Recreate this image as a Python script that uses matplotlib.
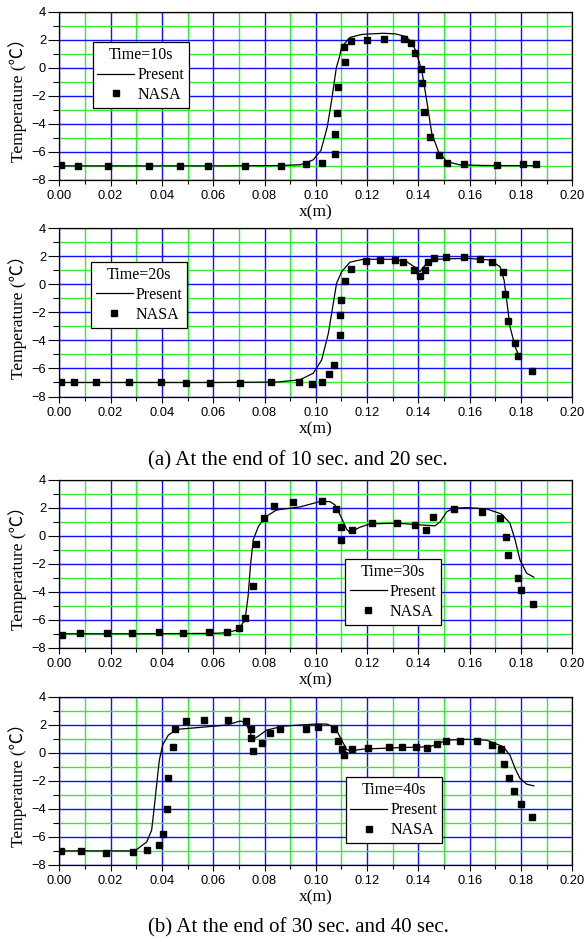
import matplotlib
matplotlib.use("Agg")
import matplotlib.pyplot as plt
from matplotlib.ticker import MultipleLocator, FormatStrFormatter
from matplotlib.lines import Line2D

# ---------------- data ----------------
times = ["Time=10s", "Time=20s", "Time=30s", "Time=40s"]

# Panel 1 (10 s)
nasa10_x = [0.0007, 0.0072, 0.0191, 0.0351, 0.0472, 0.0579, 0.0725, 0.0864, 0.0961,
            0.1025, 0.1075, 0.1076, 0.1083, 0.1088, 0.1114, 0.1110, 0.1137, 0.1198,
            0.1267, 0.1344, 0.1370, 0.1387, 0.1409, 0.1414, 0.1422, 0.1446, 0.1481,
            0.1513, 0.1578, 0.1708, 0.1809, 0.1858]
nasa10_y = [-6.95, -7.0, -7.0, -7.0, -7.0, -7.0, -7.0, -7.0, -6.9,
            -6.81, -6.17, -4.74, -3.24, -1.34, 0.44, 1.46, 1.93, 1.98,
            2.08, 2.08, 1.79, 1.03, -0.11, -1.11, -3.17, -4.91, -6.21,
            -6.81, -6.88, -6.92, -6.88, -6.88]
pres10_x = [0.0, 0.03, 0.06, 0.085, 0.094, 0.099, 0.102, 0.1045, 0.1062, 0.108, 0.1094,
            0.1101, 0.1134, 0.118, 0.1263, 0.1310, 0.1352, 0.1375, 0.1391, 0.1414,
            0.1432, 0.1452, 0.1478, 0.151, 0.156, 0.165, 0.175, 0.185]
pres10_y = [-7.0, -7.0, -7.0, -6.98, -6.92, -6.57, -5.9, -4.2, -2.29, 0.0, 0.9,
            1.5, 2.17, 2.38, 2.46, 2.42, 2.22, 1.8, 1.15, -0.28,
            -2.29, -4.67, -5.98, -6.69, -6.92, -6.97, -6.98, -6.98]

# Panel 2 (20 s)
nasa20_x = [0.0005, 0.0057, 0.0142, 0.0270, 0.0398, 0.0493, 0.0589, 0.0703, 0.0824,
            0.0936, 0.0986, 0.1025, 0.1051, 0.1072, 0.1094, 0.1094, 0.1098, 0.1115,
            0.1136, 0.1196, 0.1251, 0.1310, 0.1339, 0.1383, 0.1407, 0.1425, 0.1439,
            0.1460, 0.1509, 0.1577, 0.1642, 0.1688, 0.1731, 0.1739, 0.1750, 0.1777,
            0.1788, 0.1842]
nasa20_y = [-7.0, -7.0, -7.0, -7.0, -7.0, -7.05, -7.05, -7.07, -7.0,
            -7.0, -7.1, -7.0, -6.39, -5.72, -3.63, -2.2, -1.11, 0.24,
            1.1, 1.67, 1.72, 1.74, 1.62, 1.05, 0.62, 1.03, 1.6,
            1.86, 1.93, 1.93, 1.79, 1.58, 0.86, -0.7, -2.61, -4.2,
            -5.12, -6.17]
pres20_x = [0.0, 0.03, 0.06, 0.085, 0.0938, 0.099, 0.1023, 0.1049, 0.1066, 0.1081,
            0.1101, 0.1133, 0.1185, 0.1302, 0.1354, 0.1393, 0.1406, 0.1432, 0.1465,
            0.1589, 0.1679, 0.1718, 0.1734, 0.1744, 0.1757, 0.1777, 0.1790]
pres20_y = [-7.0, -7.0, -7.0, -6.97, -6.81, -6.34, -5.39, -3.49, -1.59, 0.08,
            0.91, 1.58, 1.79, 1.79, 1.62, 1.15, 0.91, 1.5, 1.79,
            1.86, 1.74, 1.26, 0.31, -1.11, -3.01, -4.44, -5.03]

# Panel 3 (30 s)
nasa30_x = [0.0009, 0.0081, 0.0185, 0.0285, 0.0390, 0.0481, 0.0582, 0.0654, 0.0702,
            0.0725, 0.0756, 0.0765, 0.0799, 0.0837, 0.0913, 0.1023, 0.1079, 0.1097,
            0.1097, 0.1141, 0.1218, 0.1318, 0.1387, 0.1429, 0.1458, 0.1537, 0.1649,
            0.1717, 0.1740, 0.1750, 0.1788, 0.1799, 0.1848]
nasa30_y = [-7.07, -6.95, -6.95, -6.95, -6.9, -6.95, -6.9, -6.85, -6.59,
            -5.88, -3.58, -0.61, 1.24, 2.14, 2.4, 2.45, 1.91, 0.6,
            -0.3, 0.39, 0.93, 0.88, 0.77, 0.41, 1.31, 1.88, 1.71,
            1.24, -0.07, -1.37, -3.03, -3.89, -4.88]
pres30_x = [0.0, 0.03, 0.06, 0.065, 0.0698, 0.0724, 0.0736, 0.0745, 0.0756, 0.0776,
            0.0802, 0.0846, 0.0938, 0.1016, 0.1055, 0.1075, 0.1101, 0.1120, 0.1133,
            0.1172, 0.1211, 0.1318, 0.1406, 0.1465, 0.1485, 0.1511, 0.1536, 0.1587,
            0.1665, 0.1724, 0.1757, 0.1777, 0.1796, 0.1822, 0.1850]
pres30_y = [-7.0, -7.0, -6.97, -6.93, -6.71, -6.0, -4.34, -2.2, -0.3, 0.65,
            1.31, 1.83, 2.05, 2.43, 2.43, 2.19, 1.24, 0.46, 0.22,
            0.6, 0.84, 0.89, 0.77, 0.7, 1.0, 1.71, 1.95, 2.0,
            1.91, 1.55, 0.89, -0.3, -1.73, -2.68, -2.96]

# Panel 4 (40 s)
nasa40_x = [0.0007, 0.0083, 0.0183, 0.0286, 0.0340, 0.0390, 0.0403, 0.0421, 0.0425,
            0.0443, 0.0451, 0.0493, 0.0565, 0.0657, 0.0727, 0.0746, 0.0746, 0.0756,
            0.0790, 0.0820, 0.0860, 0.0961, 0.1010, 0.1071, 0.1088, 0.1103, 0.1110,
            0.1140, 0.1205, 0.1285, 0.1337, 0.1390, 0.1435, 0.1474, 0.1506, 0.1561,
            0.1628, 0.1688, 0.1722, 0.1734, 0.1752, 0.1771, 0.1800, 0.1842]
nasa40_y = [-7.02, -7.02, -7.14, -7.07, -6.93, -6.6, -5.76, -4.04, -1.81,
            0.43, 1.71, 2.24, 2.34, 2.34, 2.24, 1.71, 1.05, 0.14,
            0.71, 1.43, 1.67, 1.67, 1.81, 1.69, 0.86, 0.26, -0.17,
            0.26, 0.36, 0.38, 0.38, 0.38, 0.36, 0.62, 0.81, 0.81,
            0.81, 0.57, 0.24, -0.81, -1.79, -2.76, -3.66, -4.61]
pres40_x = [0.0, 0.015, 0.028, 0.0302, 0.0341, 0.0360, 0.0369, 0.0380, 0.0390, 0.0403,
            0.0425, 0.0458, 0.0549, 0.0653, 0.0704, 0.0724, 0.0743, 0.0756, 0.0776,
            0.0809, 0.0873, 0.0938, 0.1003, 0.1042, 0.1075, 0.1101, 0.1120, 0.1133,
            0.1185, 0.1315, 0.1445, 0.1471, 0.1510, 0.1588, 0.1666, 0.1731, 0.1757,
            0.1777, 0.1796, 0.1822, 0.1850]
pres40_y = [-7.0, -7.0, -7.0, -6.9, -6.36, -5.52, -4.09, -2.19, -0.52, 0.55,
            1.26, 1.67, 1.81, 1.98, 2.26, 2.19, 1.5, 0.96, 1.19,
            1.62, 1.9, 1.98, 2.05, 2.05, 1.81, 0.9, 0.24, 0.14,
            0.26, 0.36, 0.43, 0.6, 0.9, 0.96, 0.9, 0.43, -0.17,
            -1.12, -1.83, -2.24, -2.36]

xticks = [0.00, 0.02, 0.04, 0.06, 0.08, 0.10, 0.12, 0.14, 0.16, 0.18, 0.20]
yticks = [-8, -6, -4, -2, 0, 2, 4]
captions = ["(a) At the end of 10 sec. and 20 sec.", "(b) At the end of 30 sec. and 40 sec."]

panels = [
    (nasa10_x, nasa10_y, pres10_x, pres10_y),
    (nasa20_x, nasa20_y, pres20_x, pres20_y),
    (nasa30_x, nasa30_y, pres30_x, pres30_y),
    (nasa40_x, nasa40_y, pres40_x, pres40_y),
]

# ---------------- layout ----------------
W, H = 585, 942
fig = plt.figure(figsize=(W / 100, H / 100), dpi=100)

SERIF = ["Liberation Serif", "DejaVu Serif"]
SERIF_C = ["Liberation Serif", "Noto Sans CJK SC", "DejaVu Sans"]
SANS = ["Liberation Sans", "DejaVu Sans"]

left_px, right_px = 59.3, 572.3
tops = [11.7, 228.3, 479.6, 696.7]
ax_h_px = 168.2
legend_boxes = [  # (x0, y1) upper-left in axes fraction
    (0.065, 0.818),
    (0.062, 0.800),
    (0.557, 0.527),
    (0.558, 0.520),
]

for i, (nx, ny, px_, py_) in enumerate(panels):
    top = tops[i]
    ax = fig.add_axes([left_px / W, 1 - (top + ax_h_px) / H,
                       (right_px - left_px) / W, ax_h_px / H])
    ax.set_xlim(0, 0.20)
    ax.set_ylim(-8, 4)
    ax.xaxis.set_minor_locator(MultipleLocator(0.01))
    ax.yaxis.set_minor_locator(MultipleLocator(1))
    ax.set_xticks(xticks)
    ax.set_yticks(yticks)
    ax.xaxis.set_major_formatter(FormatStrFormatter("%.2f"))
    ax.grid(which="major", color="#1010ff", lw=1.0)
    ax.grid(which="minor", color="#30ee30", lw=1.0)
    ax.set_axisbelow(True)
    ax.tick_params(axis="x", which="major", direction="out", length=4.5, width=0.8,
                   labelsize=9.3, pad=3, top=False)
    ax.tick_params(axis="x", which="minor", direction="out", length=3, width=0.8, top=False)
    ax.tick_params(axis="y", which="major", direction="out", length=8, width=0.8,
                   labelsize=9.3, pad=1.5, right=False)
    ax.tick_params(axis="y", which="minor", direction="out", length=4, width=0.8, right=False)
    for lab in ax.get_xticklabels() + ax.get_yticklabels():
        lab.set_family(SANS)
    for s in ax.spines.values():
        s.set_linewidth(0.9)
        s.set_color("black")

    ax.plot(px_, py_, color="black", lw=0.9, zorder=3)
    ax.plot(nx, ny, "s", color="black", ms=4.6, zorder=4, ls="none")

    ax.set_xlabel("x(m)", family=SERIF, fontsize=12.5, labelpad=1.5)
    ax.set_ylabel("Temperature (\u2103\uff09", family=SERIF_C, fontsize=12.5, labelpad=3)

    # legend box
    x0, y1 = legend_boxes[i]
    handles = [Line2D([], [], color="black", lw=0.9),
               Line2D([], [], color="black", marker="s", ls="none", ms=4.6)]
    leg = ax.legend(handles, ["Present", "NASA"], title=times[i],
                    loc="upper left", bbox_to_anchor=(x0, y1),
                    frameon=True, fancybox=False, framealpha=1,
                    edgecolor="black", prop={"family": SERIF, "size": 11.5},
                    title_fontproperties={"family": SERIF, "size": 11.5},
                    handlelength=2.3, handletextpad=0.2, borderpad=0.3,
                    labelspacing=0.25, borderaxespad=0.0)
    leg.get_frame().set_linewidth(0.9)
    leg.set_zorder(5)

fig.text(298 / W, 1 - 461 / H, captions[0], ha="center", va="center",
         family=SERIF, fontsize=15)
fig.text(298 / W, 1 - 928 / H, captions[1], ha="center", va="center",
         family=SERIF, fontsize=15)

fig.savefig("out.png", dpi=100, facecolor="white")
